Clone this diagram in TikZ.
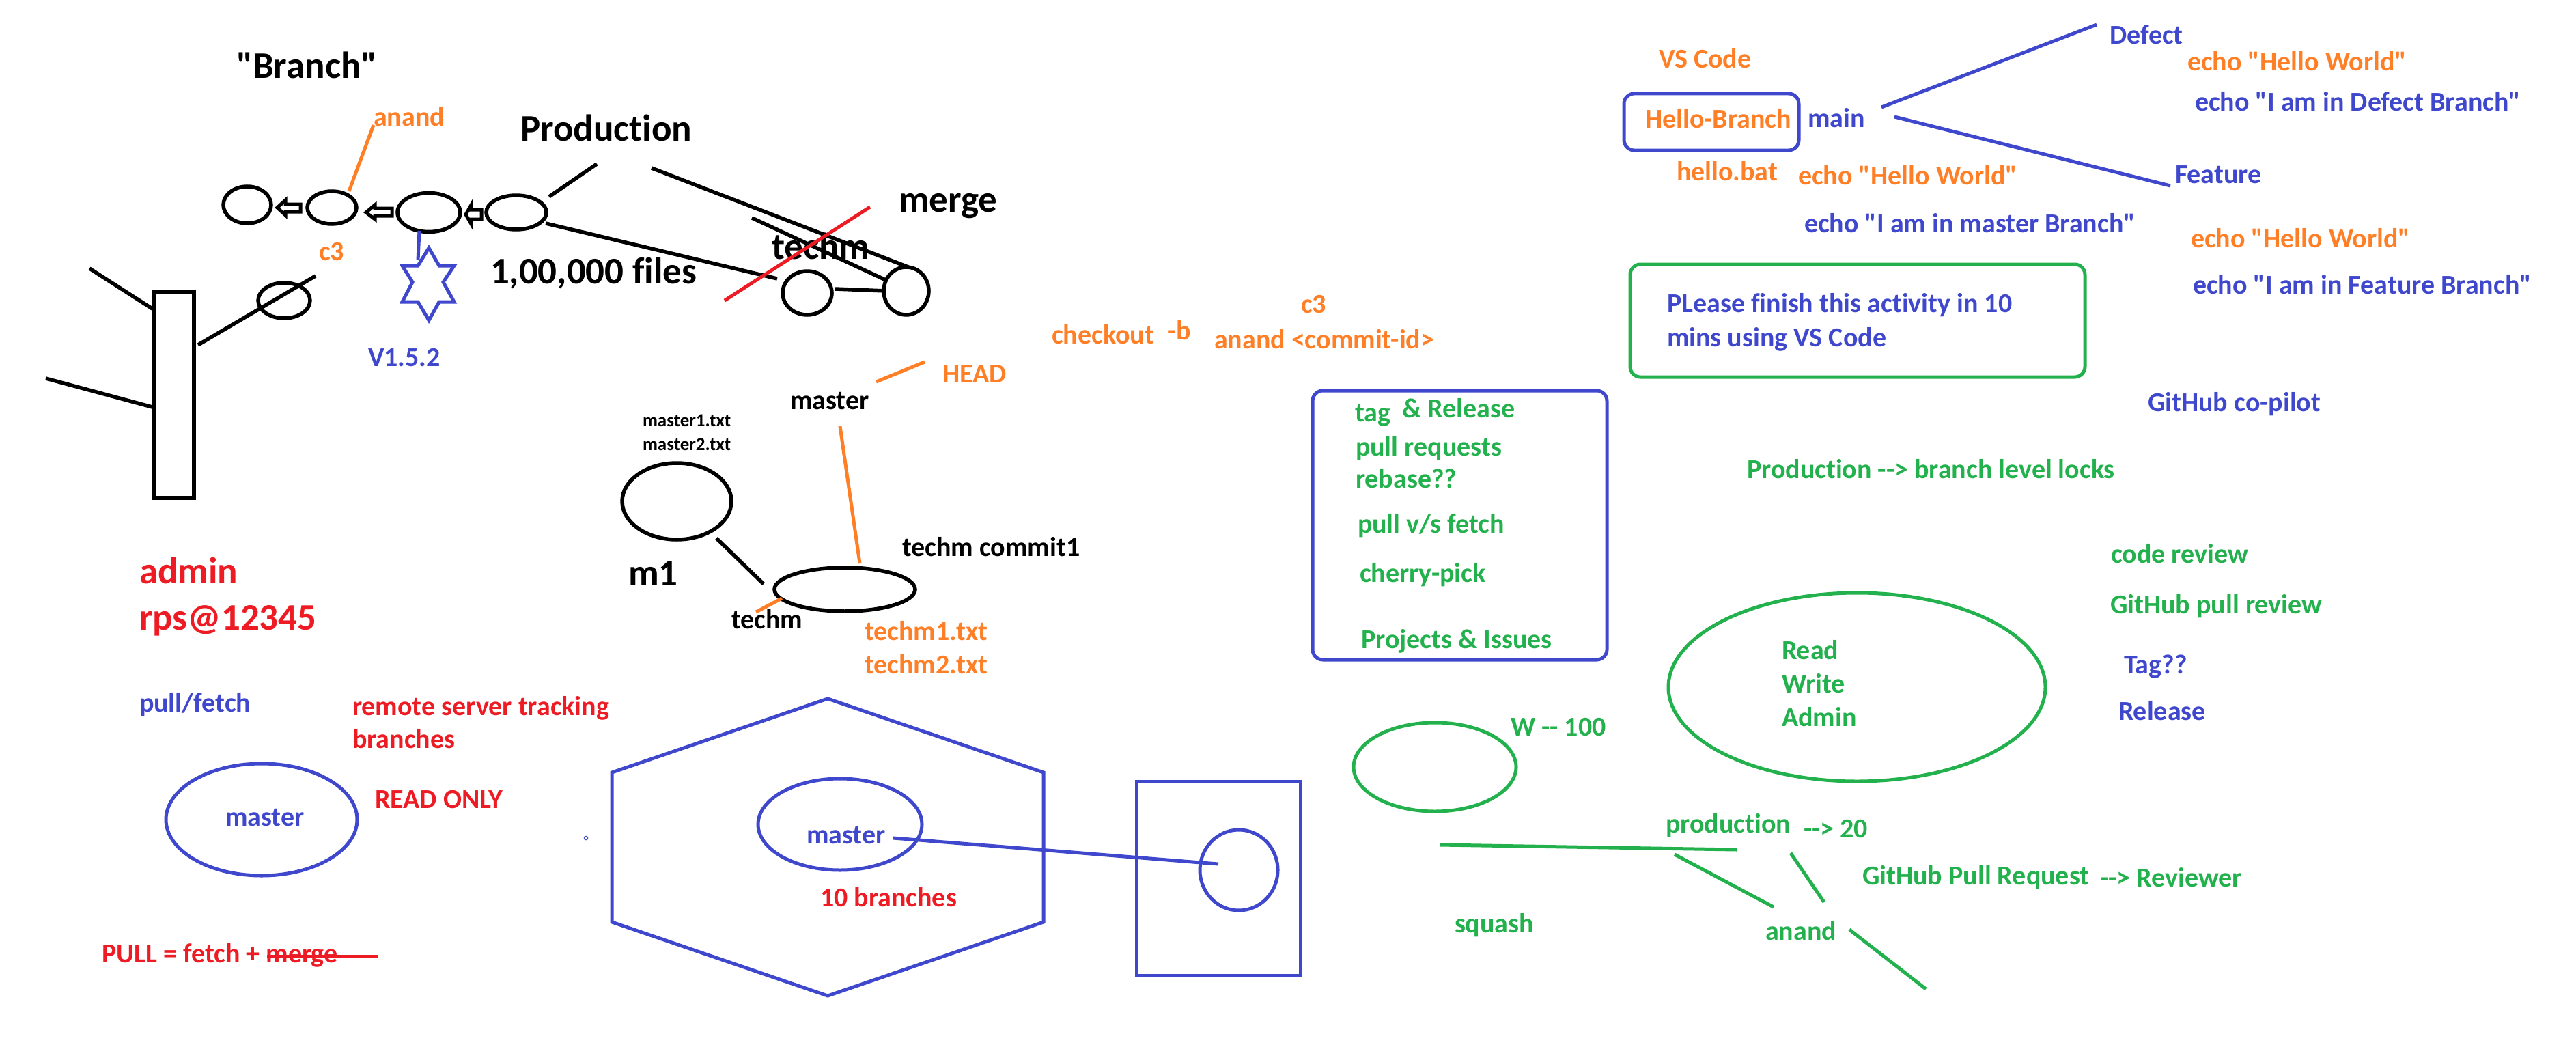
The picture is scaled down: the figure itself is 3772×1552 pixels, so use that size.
\documentclass[tikz,border=0pt]{standalone}
\usepackage{fontspec}
\setmainfont{Carlito}[Ligatures={TeXOff,CommonOff}]
\usetikzlibrary{shapes.geometric}
\definecolor{pOrange}{HTML}{FF7F27}
\definecolor{pBlue}{HTML}{3F48CC}
\definecolor{pRed}{HTML}{ED1C24}
\definecolor{pGreen}{HTML}{22B14C}
\tikzset{
  txt/.style={font=\fontsize{40}{48}\selectfont\bfseries,anchor=west,inner sep=0pt,outer sep=0pt,text height=36pt,text depth=8pt},
  bigtxt/.style={txt,font=\fontsize{55}{60}\selectfont\bfseries,text height=46.5pt,text depth=11pt},
  smalltxt/.style={txt,font=\fontsize{27}{30}\selectfont\bfseries,text height=23pt,text depth=5.4pt},
  blk/.style={draw=black,line width=5.5pt},
  org/.style={draw=pOrange,line width=5pt},
  blu/.style={draw=pBlue,line width=5pt},
  rd/.style={draw=pRed,line width=5pt},
  grn/.style={draw=pGreen,line width=5pt},
  ell/.style={ellipse,inner sep=0pt,outer sep=0pt},
  rbox/.style={rectangle,rounded corners=15pt,inner sep=0pt,outer sep=0pt}
}
\begin{document}
\begin{tikzpicture}[x=1pt,y=-1pt]
\useasboundingbox (0,0) rectangle (3772,1552);
\fill[white] (0,0) rectangle (3772,1552);

% --- left: commit graph ---
\node[bigtxt,text=black] (branchT) at (346,97) {"Branch"};
\node[txt,text=pOrange] (anandT) at (547,170) {anand};
\node[ell,blk,minimum width=70,minimum height=54] (c1) at (362,300) {};
\node[ell,blk,minimum width=72,minimum height=48] (c2) at (486,304) {};
\node[ell,blk,minimum width=92,minimum height=57] (c3) at (628,311) {};
\node[ell,blk,minimum width=88,minimum height=50] (c4) at (756,311) {};
\draw[org] (547,183) -- (511,280);
\draw[draw=black,line width=5pt] (406,304)--(418,293)--(418,299)--(440,299)--(440,310)--(418,310)--(418,315)--cycle;
\draw[draw=black,line width=5pt] (536,311)--(549,300)--(549,305)--(574,305)--(574,316)--(549,316)--(549,321)--cycle;
\draw[draw=black,line width=5pt] (682,314)--(690,300)--(690,307)--(705,307)--(705,321)--(690,321)--(690,328)--cycle;
\node[bigtxt,text=black] (prodT) at (762,189) {Production};
\draw[blk] (804,288) -- (874,240);
\draw[blk] (954,246) -- (1330,391);
\draw[blk] (1101,319) -- (1297,410);
\draw[blk] (799,327) -- (1138,408);
\node[bigtxt,text=black] (techmBig) at (1130,362) {techm};
\draw[rd] (1274,303) -- (1061,440);
\node[bigtxt,text=black] (filesT) at (718,398) {1,00,000 files};
\node[ell,blk,minimum width=72,minimum height=64] (c5) at (1182,429) {};
\node[ell,blk,minimum width=66,minimum height=70] (c6) at (1327,426) {};
\draw[blk] (1223,423) -- (1297,426);
\node[bigtxt,text=black] (mergeT) at (1316,293) {merge};
\node[txt,text=pOrange] (c3T) at (467,367) {c3};
\draw[blu] (614,338) -- (612,381);
\draw[blu,line join=miter] (628,363)--(643,389)--(665,389)--(649,413)--(665,442)--(643,442)--(628,469)--(612,442)--(589,442)--(604,413)--(589,389)--(612,389)--cycle;
\node[txt,text=pBlue] (verT) at (539,522) {V1.5.2};

% --- tree ---
\node[rectangle,blk,minimum width=59,minimum height=301,inner sep=0pt,outer sep=0pt] (trunk) at (254.5,578.5) {};
\draw[blk] (131,393) -- (223,452);
\draw[blk] (67,554) -- (223,596);
\draw[blk] (290,505) -- (462,404);
\node[ell,blk,minimum width=76,minimum height=52] (c7) at (416,440) {};

% --- master / techm ---
\node[txt,text=black] (masterK) at (1157,585) {master};
\node[smalltxt,text=black] (m1t) at (941,616) {master1.txt};
\node[smalltxt,text=black] (m2t) at (941,651) {master2.txt};
\node[ell,blk,minimum width=160,minimum height=112] (m1e) at (991,734) {};
\draw[org] (1283,559) -- (1354,530);
\node[txt,text=pOrange] (headT) at (1380,546) {HEAD};
\draw[org] (1230,624) -- (1259,825);
\draw[blk] (1049,788) -- (1118,855);
\node[bigtxt,text=black] (m1T) at (920,840) {m1};
\node[ell,blk,minimum width=206,minimum height=64] (te) at (1237,863) {};
\draw[org] (1107,896) -- (1145,876);
\node[txt,text=black] (techmS) at (1071,906) {techm};
\node[txt,text=black] (tc1) at (1321,800) {techm commit1};
\node[txt,text=pOrange] (t1t) at (1266,923) {techm1.txt};
\node[txt,text=pOrange] (t2t) at (1266,972) {techm2.txt};

% --- bottom left ---
\node[bigtxt,text=pRed] (adminT) at (204,837) {admin};
\node[bigtxt,text=pRed] (rpsT) at (204,905) {rps@12345};
\node[txt,text=pBlue] (pfT) at (204,1028) {pull/fetch};
\node[txt,text=pRed] (rsT) at (516,1033) {remote server tracking};
\node[txt,text=pRed] (brT) at (516,1081) {branches};
\node[ell,blu,minimum width=280,minimum height=164] (me1) at (383,1200) {};
\node[txt,text=pBlue] (mt1) at (330,1195) {master};
\node[txt,text=pRed] (roT) at (549,1169) {READ ONLY};
\node[txt,text=pRed] (pullT) at (149,1395) {PULL = fetch + merge};
\draw[rd] (391,1400) -- (553,1400);
\draw[draw=pBlue,line width=1.5pt] (858,1227) circle (2.5);

% --- hexagon and remote ---
\draw[blu,line join=miter] (896,1131)--(1212,1023)--(1528,1131)--(1528,1350)--(1212,1458)--(896,1350)--cycle;
\node[ell,blu,minimum width=240,minimum height=134] (me2) at (1230,1207) {};
\node[txt,text=pBlue] (mt2) at (1181,1221) {master};
\node[txt,text=pRed] (tenT) at (1201,1313) {10 branches};
\node[rectangle,blu,minimum width=240,minimum height=284,inner sep=0pt,outer sep=0pt] (srv) at (1784,1286) {};
\node[ell,blu,minimum width=114,minimum height=118] (me3) at (1814,1274) {};
\draw[blu] (1308,1227) -- (1784,1265);

% --- checkout ---
\node[txt,text=pOrange] (coT) at (1540,489) {checkout};
\node[txt,text=pOrange] (bT) at (1710,483) {-b};
\node[txt,text=pOrange] (c3b) at (1905,444) {c3};
\node[txt,text=pOrange] (acT) at (1778,496) {anand <commit-id>};

% --- topics box ---
\node[rbox,blu,minimum width=431,minimum height=394] (topics) at (2137.5,769) {};
\node[txt,text=pGreen] (tagT) at (1984,603) {tag};
\node[txt,text=pGreen] (relT) at (2053,597) {\& Release};
\node[txt,text=pGreen] (prT) at (1985,653) {pull requests};
\node[txt,text=pGreen] (rbT) at (1985,700) {rebase??};
\node[txt,text=pGreen] (pvT) at (1988,766) {pull v/s fetch};
\node[txt,text=pGreen] (cpT) at (1991,838) {cherry-pick};
\node[txt,text=pGreen] (piT) at (1993,935) {Projects \& Issues};

% --- top right ---
\node[txt,text=pOrange] (vsT) at (2429,86) {VS Code};
\node[rbox,blu,minimum width=256,minimum height=83] (hb) at (2506,178.5) {};
\node[txt,text=pOrange] (hbT) at (2409,173) {Hello-Branch};
\node[txt,text=pOrange] (hbat) at (2455,250) {hello.bat};
\node[txt,text=pBlue] (mainT) at (2647,172) {main};
\draw[blu] (2755,157) -- (3070,36);
\draw[blu] (2774,171) -- (3178,272);
\node[txt,text=pBlue] (defT) at (3089,51) {Defect};
\node[txt,text=pBlue] (feaT) at (3185,254) {Feature};
\node[txt,text=pOrange] (eh1) at (3203,90) {echo "Hello World"};
\node[txt,text=pBlue] (ed) at (3214,149) {echo "I am in Defect Branch"};
\node[txt,text=pOrange] (eh2) at (2633,256) {echo "Hello World"};
\node[txt,text=pBlue] (em) at (2642,326) {echo "I am in master Branch"};
\node[txt,text=pOrange] (eh3) at (3208,348) {echo "Hello World"};
\node[txt,text=pBlue] (ef) at (3211,416) {echo "I am in Feature Branch"};
\node[rbox,grn,minimum width=666,minimum height=165] (act) at (2720,469.5) {};
\node[txt,text=pBlue] (pl1) at (2441,443) {PLease finish this activity in 10};
\node[txt,text=pBlue] (pl2) at (2441,493) {mins using VS Code};
\node[txt,text=pBlue] (ghc) at (3145,588) {GitHub co-pilot};
\node[txt,text=pGreen] (lock) at (2558,686) {Production --> branch level locks};

% --- bottom right ---
\node[txt,text=pGreen] (cr) at (3091,810) {code review};
\node[txt,text=pGreen] (gpr) at (3090,884) {GitHub pull review};
\node[txt,text=pBlue] (tagq) at (3110,972) {Tag??};
\node[txt,text=pBlue] (rel) at (3102,1040) {Release};
\node[ell,grn,minimum width=552,minimum height=276] (rwa) at (2719,1006) {};
\node[txt,text=pGreen] (rd1) at (2609,951) {Read};
\node[txt,text=pGreen] (wr1) at (2609,1000) {Write};
\node[txt,text=pGreen] (ad1) at (2609,1049) {Admin};
\node[txt,text=pGreen] (w100) at (2212,1063) {W -- 100};
\node[ell,grn,minimum width=238,minimum height=130] (we) at (2101,1123) {};
\node[txt,text=pGreen] (prod2) at (2439,1205) {production};
\node[txt,text=pGreen] (to20) at (2641,1212) {--> 20};
\draw[grn] (2108,1237) -- (2543,1244);
\draw[grn] (2452,1251) -- (2597,1328);
\draw[grn] (2622,1249) -- (2671,1321);
\node[txt,text=pGreen] (an2) at (2585,1362) {anand};
\draw[grn] (2708,1361) -- (2820,1448);
\node[txt,text=pGreen] (gpq) at (2727,1281) {GitHub Pull Request};
\node[txt,text=pGreen] (rev) at (3075,1284) {--> Reviewer};
\node[txt,text=pGreen] (sq) at (2130,1351) {squash};
\end{tikzpicture}
\end{document}
